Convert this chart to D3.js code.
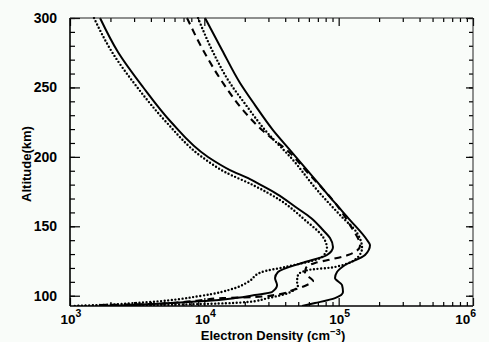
<!DOCTYPE html>
<html>
<head>
<meta charset="utf-8">
<script src="https://cdn.jsdelivr.net/npm/d3@7"></script>
<style>
  html, body { margin: 0; padding: 0; background: #f9fcf9; }
  svg { display: block; }
  text { font-family: "Liberation Sans", Arial, sans-serif; font-weight: bold; fill: #000; }
  .tick-label { font-family: "Liberation Sans Narrow", "Liberation Sans", Arial, sans-serif; }
</style>
</head>
<body>
<svg id="chart" width="489" height="342"></svg>
<script>
// Electron density profiles: altitude (km) vs density (cm^-3)
// Each profile is listed as [altitude, density] pairs from top to bottom.
const profileSolidLow = [
  [300, 1673], [275.5, 2275], [250.3, 3491], [225.1, 5650], [199.9, 10650], [190.5, 15520],
  [184.0, 21860], [181.2, 24670], [173.2, 34780], [163.2, 48990], [156.0, 62260],
  [147.3, 76420], [141.6, 86200], [135.1, 90730], [129.3, 81840], [123.6, 53350],
  [117.1, 35350], [112.7, 33600], [107.7, 34780], [102.7, 31900], [100.5, 23830],
  [98.3, 16910], [96.2, 10120], [94.7, 5550], [93.3, 2940], [92.6, 1900]
];
const profileDottedLow = [
  [300, 1509], [275.5, 2055], [250.3, 3154], [225.1, 5200], [199.9, 9610], [189.1, 14250],
  [179.7, 23030], [168.9, 36560], [154.5, 56150], [142.3, 76420], [134.4, 81840],
  [127.9, 75210], [120.7, 39870], [117.1, 26870], [109.9, 21150], [105.5, 16910],
  [99.8, 9290], [95.5, 3945], [93.3, 1673], [92.6, 1035]
];
const profileSolidHigh = [
  [300, 10120], [277.0, 13540], [253.2, 18440], [237.3, 23830], [219.3, 32430],
  [204.9, 43440], [181.2, 70200], [166.8, 93930], [154.5, 121500],
  [140.1, 162600], [136.5, 171100], [129.3, 157100], [122.1, 111500], [117.1, 97190],
  [112.7, 93930], [107.7, 105900], [102.7, 107700], [98.3, 93930], [94.7, 66720],
  [92.6, 53350]
];
const profileDottedHigh = [
  [300, 8974], [277.0, 11400], [253.2, 15520], [237.3, 20420], [219.3, 28300],
  [197.7, 45760], [176.1, 69070], [158.1, 102400], [145.2, 137000], [134.4, 149300],
  [127.9, 139400], [120.7, 93930], [118.5, 59130], [114.9, 49800], [109.9, 48990],
  [107.7, 49800], [101.9, 41990], [98.3, 29780], [95.5, 21150], [94.0, 9290],
  [93.3, 3945], [92.6, 1090]
];
const profileDashedHigh = [
  [300, 7431], [277.0, 9777], [253.2, 13770], [233.7, 19400], [219.3, 26870],
  [202.8, 43440], [188.4, 59130], [177.6, 75210], [166.8, 93930], [150.9, 121500],
  [135.8, 144200], [129.3, 117400], [125.7, 83280], [123.6, 66720], [120.0, 57110],
  [116.3, 56150], [110.6, 64420], [107.7, 58070], [104.1, 45760], [100.5, 33600],
  [99.1, 23830], [98.3, 13770], [96.9, 9777], [95.5, 6940], [94.0, 3945], [93.3, 1673]
];

const altitudeMajorTicks = [100, 150, 200, 250, 300];
const altitudeMinorTicks = d3.range(100, 301, 10);
const densityExponents = [3, 4, 5, 6];
const altitudeDomain = [92.6, 300];
const densityDomain = [1e3, 1e6];

const profiles = [
  { data: profileSolidLow, style: "solid" },
  { data: profileDottedLow, style: "dotted" },
  { data: profileSolidHigh, style: "solid" },
  { data: profileDottedHigh, style: "dotted" },
  { data: profileDashedHigh, style: "dashed" }
];

const svg = d3.select("#chart");
const plot = { left: 70, right: 473, top: 18, bottom: 306 };

const x = d3.scaleLog().domain(densityDomain).range([plot.left, plot.right]);
const y = d3.scaleLinear().domain(altitudeDomain).range([plot.bottom, plot.top]);

// minor log ticks: 2..9 x 10^n inside the domain
const densityMinor = [];
densityExponents.slice(0, -1).forEach(e => {
  for (let m = 2; m <= 9; m++) densityMinor.push(m * Math.pow(10, e));
});
const densityMajor = densityExponents.map(e => Math.pow(10, e));

svg.append("clipPath").attr("id", "plot-clip")
  .append("rect")
  .attr("x", plot.left).attr("y", plot.top - 1)
  .attr("width", plot.right - plot.left).attr("height", plot.bottom - plot.top + 1);

// profiles (altitude is strictly decreasing along each profile)
const line = d3.line()
  .x(d => x(d[1]))
  .y(d => y(d[0]))
  .curve(d3.curveMonotoneY);

const gLines = svg.append("g").attr("clip-path", "url(#plot-clip)");
profiles.forEach(p => {
  const path = gLines.append("path")
    .datum(p.data)
    .attr("d", line)
    .attr("fill", "none")
    .attr("stroke", "#000")
    .attr("stroke-width", p.style === "solid" ? 2 : p.style === "dotted" ? 2.4 : 2.1);
  if (p.style === "dotted") {
    path.attr("stroke-dasharray", "0,3.6").attr("stroke-linecap", "round");
  } else if (p.style === "dashed") {
    path.attr("stroke-dasharray", "7,5");
  }
});

// left axis: inward ticks, labels on major altitudes
const leftMinor = d3.axisLeft(y).tickValues(altitudeMinorTicks).tickSize(-5).tickFormat("");
const leftMajor = d3.axisLeft(y).tickValues(altitudeMajorTicks).tickSize(-10).tickPadding(13)
  .tickFormat(d3.format("d"));
svg.append("g").attr("transform", `translate(${plot.left},0)`).call(leftMinor)
  .call(g => g.select(".domain").remove());
const gLeft = svg.append("g").attr("transform", `translate(${plot.left},0)`).call(leftMajor);
gLeft.select(".domain").remove();
gLeft.selectAll("text").attr("class", "tick-label").attr("font-size", 14)
  .style("font-weight", "bold");

// right axis: inward ticks
svg.append("g").attr("transform", `translate(${plot.right},0)`)
  .call(d3.axisRight(y).tickValues(altitudeMinorTicks).tickSize(-4).tickFormat(""))
  .call(g => g.select(".domain").remove());
svg.append("g").attr("transform", `translate(${plot.right},0)`)
  .call(d3.axisRight(y).tickValues(altitudeMajorTicks).tickSize(-7).tickFormat(""))
  .call(g => g.select(".domain").remove());

// bottom axis
svg.append("g").attr("transform", `translate(0,${plot.bottom})`)
  .call(d3.axisBottom(x).tickValues(densityMinor).tickSize(-4).tickFormat(""))
  .call(g => g.select(".domain").remove());
svg.append("g").attr("transform", `translate(0,${plot.bottom})`)
  .call(d3.axisBottom(x).tickValues(densityMajor).tickSize(-8).tickFormat(""))
  .call(g => g.select(".domain").remove());

// top axis
svg.append("g").attr("transform", `translate(0,${plot.top})`)
  .call(d3.axisTop(x).tickValues(densityMinor).tickSize(-4).tickFormat(""))
  .call(g => g.select(".domain").remove());
svg.append("g").attr("transform", `translate(0,${plot.top})`)
  .call(d3.axisTop(x).tickValues(densityMajor).tickSize(-8).tickFormat(""))
  .call(g => g.select(".domain").remove());

svg.selectAll(".tick line").attr("stroke", "#000").attr("stroke-width", 1.2);

// frame
svg.append("line").attr("x1", plot.left).attr("x2", plot.left)
  .attr("y1", plot.top).attr("y2", plot.bottom).attr("stroke", "#000").attr("stroke-width", 1.6);
svg.append("line").attr("x1", plot.left).attr("x2", plot.right)
  .attr("y1", plot.bottom).attr("y2", plot.bottom).attr("stroke", "#000").attr("stroke-width", 1.6);
svg.append("line").attr("x1", plot.left).attr("x2", plot.right)
  .attr("y1", plot.top).attr("y2", plot.top).attr("stroke", "#222").attr("stroke-width", 1);
svg.append("line").attr("x1", plot.right).attr("x2", plot.right)
  .attr("y1", plot.top).attr("y2", plot.bottom).attr("stroke", "#222").attr("stroke-width", 1);

// density tick labels: 10 with a superscript exponent
const xLabels = svg.append("g");
densityExponents.forEach((e, i) => {
  const last = i === densityExponents.length - 1;
  const t = xLabels.append("text")
    .attr("class", "tick-label")
    .attr("x", x(Math.pow(10, e)) + (last ? 3 : 1))
    .attr("y", 324)
    .attr("text-anchor", last ? "end" : "middle")
    .attr("font-size", 13.5);
  t.append("tspan").text("10");
  t.append("tspan").attr("font-size", 10.5).attr("dy", -7).text(String(e));
});

// axis titles
const xTitle = svg.append("text")
  .attr("x", 273).attr("y", 340)
  .attr("text-anchor", "middle")
  .attr("font-size", 13);
xTitle.append("tspan").text("Electron Density (cm");
xTitle.append("tspan").attr("font-size", 9.5).attr("dy", -5).text("−3");
xTitle.append("tspan").attr("dy", 5).text(")");

svg.append("text")
  .attr("transform", "translate(31,164) rotate(-90)")
  .attr("text-anchor", "middle")
  .attr("font-size", 13)
  .text("Altitude(km)");
</script>
</body>
</html>
